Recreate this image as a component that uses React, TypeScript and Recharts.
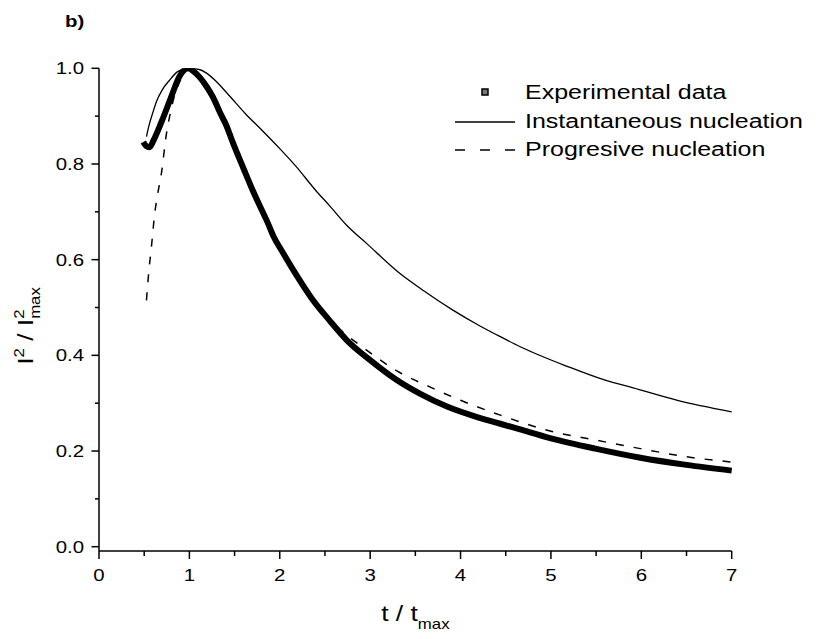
import React from 'react'
import { ComposedChart, Line, XAxis, YAxis, Legend } from 'recharts'

const expT = [0.49, 0.52, 0.56, 0.6, 0.7, 0.8, 0.89, 0.985, 1.05, 1.12, 1.19, 1.26, 1.34, 1.41, 1.48, 1.6, 1.7, 1.78, 1.86, 1.93, 2.04, 2.19, 2.35, 2.55, 2.74, 3.0, 3.29, 3.55, 3.85, 4.2, 4.44, 4.66, 4.99, 5.49, 5.99, 6.5, 7.0]
const expY = [0.846, 0.838, 0.835, 0.848, 0.892, 0.941, 0.983, 1.0, 0.993, 0.98, 0.962, 0.94, 0.907, 0.88, 0.845, 0.79, 0.745, 0.712, 0.68, 0.649, 0.613, 0.566, 0.52, 0.473, 0.432, 0.39, 0.349, 0.32, 0.293, 0.27, 0.257, 0.245, 0.227, 0.205, 0.186, 0.171, 0.159]

// instantaneous nucleation model
const insT = [0.525, 0.55, 0.6, 0.635, 0.7, 0.78, 0.87, 0.985, 1.1, 1.19, 1.3, 1.45, 1.62, 1.8, 2.0, 2.17, 2.41, 2.55, 2.74, 2.96, 3.33, 3.6, 3.92, 4.2, 4.44, 4.66, 5.18, 5.6, 5.91, 6.4, 7.0]
const insY = [0.857, 0.878, 0.91, 0.93, 0.955, 0.975, 0.993, 1.0, 0.998, 0.99, 0.972, 0.941, 0.905, 0.871, 0.832, 0.797, 0.742, 0.713, 0.672, 0.634, 0.571, 0.534, 0.494, 0.463, 0.439, 0.418, 0.377, 0.348, 0.332, 0.306, 0.282]

// progressive nucleation model
const proT = [0.525, 0.55, 0.58, 0.617, 0.65, 0.69, 0.746, 0.78, 0.82, 0.9, 0.985, 1.1, 1.26, 1.5, 1.8, 2.0, 2.3, 2.6, 2.96, 3.3, 3.66, 4.0, 4.44, 4.99, 5.49, 5.99, 6.5, 7.0]
const proY = [0.515, 0.573, 0.627, 0.697, 0.738, 0.78, 0.863, 0.898, 0.932, 0.975, 1.0, 0.985, 0.94, 0.838, 0.703, 0.624, 0.535, 0.466, 0.411, 0.367, 0.334, 0.306, 0.275, 0.242, 0.223, 0.205, 0.188, 0.177]

const xTicks = [0, 0.5, 1, 1.5, 2, 2.5, 3, 3.5, 4, 4.5, 5, 5.5, 6, 6.5, 7]
const yTicks = [0, 0.1, 0.2, 0.3, 0.4, 0.5, 0.6, 0.7, 0.8, 0.9, 1.0]
const legendLabels = ['Experimental data', 'Instantaneous nucleation', 'Progresive nucleation']

const expData = expT.map((t, i) => ({ t, y: expY[i] }))
const insData = insT.map((t, i) => ({ t, y: insY[i] }))
const proData = proT.map((t, i) => ({ t, y: proY[i] }))

const FONT = '"Liberation Sans", Arial, Helvetica, sans-serif'
const SX = 1.2 // text in the reference is a bit wide

const isMajor = (v: number) => Math.round(v * 10) % 2 === 0

const XTick = (props: any) => {
  const { x, y, payload } = props
  const major = Number.isInteger(payload.value)
  return (
    <g>
      <line x1={x} y1={y} x2={x} y2={y + (major ? 8 : 5)} stroke="#000" strokeWidth={1.5} />
      {major && (
        <text transform={`translate(${x},${y + 29.5}) scale(${SX},1)`} textAnchor="middle" fontSize={17} fontFamily={FONT} fill="#000">
          {payload.value}
        </text>
      )}
    </g>
  )
}

const YTick = (props: any) => {
  const { x, y, payload } = props
  const major = isMajor(payload.value)
  return (
    <g>
      <line x1={x} y1={y} x2={x - (major ? 7.5 : 4)} y2={y} stroke="#000" strokeWidth={1.5} />
      {major && (
        <text transform={`translate(${x - 15},${y + 6}) scale(${SX},1)`} textAnchor="end" fontSize={17} fontFamily={FONT} fill="#000">
          {payload.value.toFixed(1)}
        </text>
      )}
    </g>
  )
}

const XTitle = (props: any) => {
  const vb = props.viewBox || { x: 99, width: 632 }
  const cx = vb.x + vb.width / 2
  return (
    <text transform={`translate(${cx},621) scale(${SX},1)`} textAnchor="middle" fontSize={22} fontFamily={FONT} fill="#000">
      <tspan>t / t</tspan>
      <tspan fontSize={14} dy={8}>max</tspan>
    </text>
  )
}

const YTitle = () => (
  <g>
    <text transform={`translate(65,27.3) scale(${SX},1)`} fontSize={17} fontWeight="bold" fontFamily={FONT} fill="#000">
      b)
    </text>
    <text transform={`translate(33,326) rotate(-90) scale(${SX},1)`} textAnchor="middle" fontSize={22} fontFamily={FONT} fill="#000">
      <tspan>I</tspan>
      <tspan fontSize={14} dy={-9}>2</tspan>
      <tspan dy={9}> / I</tspan>
      <tspan fontSize={14} dy={-9}>2</tspan>
      <tspan fontSize={14} dx={-7.8} dy={16}>max</tspan>
    </text>
  </g>
)

const LegendBox = () => (
  <svg width={370} height={100} style={{ display: 'block' }}>
    <rect x={37} y={14} width={6} height={6} fill="#777" stroke="#000" strokeWidth={1.5} />
    <line x1={10} x2={70} y1={47} y2={47} stroke="#000" strokeWidth={1.3} />
    <line x1={10} x2={70} y1={75} y2={75} stroke="#000" strokeWidth={1.5} strokeDasharray="10 15" />
    {legendLabels.map((l, i) => (
      <text key={l} transform={`translate(80,${24.2 + i * 28.5}) scale(1.25,1)`} fontSize={20} fontFamily={FONT} fill="#000">
        {l}
      </text>
    ))}
  </svg>
)

export default function App() {
  return (
    <div style={{ position: 'absolute', left: 0, top: 0, width: 820, height: 639, background: '#fff' }}>
      <ComposedChart width={820} height={639} margin={{ top: 68.3, right: 88.3, bottom: 8, left: 59 }}>
        <XAxis
          dataKey="t"
          type="number"
          domain={[0, 7]}
          ticks={xTicks}
          interval={0}
          height={80}
          tickSize={0}
          tickMargin={0}
          tickLine={false}
          tick={<XTick />}
          axisLine={{ stroke: '#000', strokeWidth: 1.5 }}
          label={<XTitle />}
        />
        <YAxis
          type="number"
          domain={[-0.009, 1]}
          ticks={yTicks}
          interval={0}
          width={40}
          tickSize={0}
          tickMargin={0}
          tickLine={false}
          tick={<YTick />}
          axisLine={{ stroke: '#000', strokeWidth: 1.5 }}
          allowDataOverflow
          label={<YTitle />}
        />
        <Legend
          layout="vertical"
          align="center"
          verticalAlign="middle"
          content={<LegendBox />}
          wrapperStyle={{ position: 'absolute', left: 445, top: 75, width: 370, height: 100 }}
        />
        <Line data={insData} dataKey="y" name={legendLabels[1]} type="monotone" stroke="#000" strokeWidth={1.3} dot={false} isAnimationActive={false} />
        <Line data={proData} dataKey="y" name={legendLabels[2]} type="monotone" stroke="#000" strokeWidth={1.5} strokeDasharray="8 10" dot={false} isAnimationActive={false} />
        <Line data={expData} dataKey="y" name={legendLabels[0]} type="monotone" stroke="#000" strokeWidth={6} strokeLinejoin="round" dot={false} isAnimationActive={false} />
      </ComposedChart>
    </div>
  )
}
